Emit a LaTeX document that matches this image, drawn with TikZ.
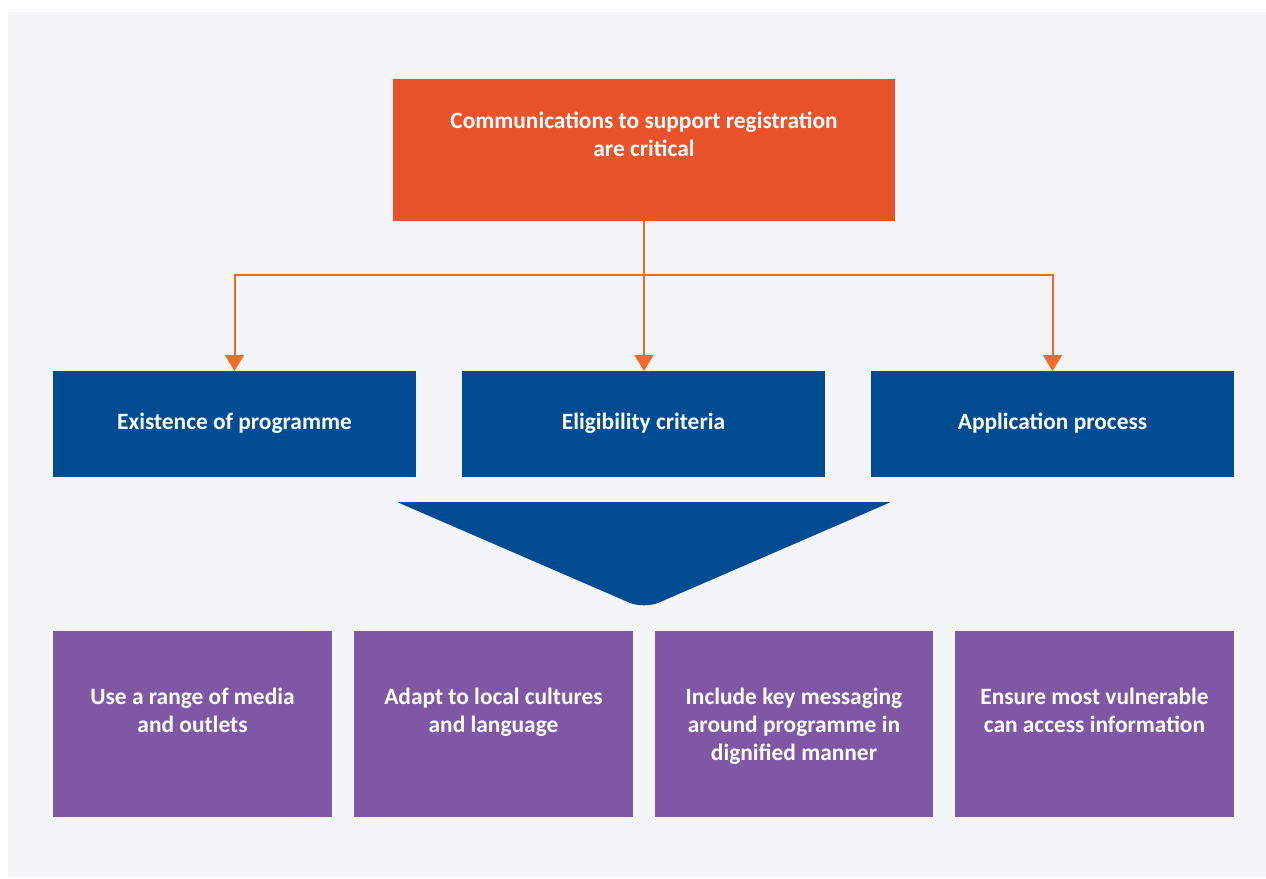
\documentclass[tikz,border=0pt]{standalone}
\usepackage{fontspec}
\setmainfont{Carlito}
\usetikzlibrary{arrows.meta}
\definecolor{panel}{HTML}{F4F5F7}
\definecolor{topor}{HTML}{E8532B}
\definecolor{lineor}{HTML}{F26B25}
\definecolor{dblue}{HTML}{004C93}
\definecolor{purp}{HTML}{7F58A5}
\tikzset{
  box/.style={rectangle, inner sep=0pt, outer sep=0pt},
  txt/.style={inner sep=0pt, outer sep=0pt, align=center, text=white, font=\fontsize{23.4}{28}\selectfont\bfseries},
  conn/.style={draw=lineor, line width=2pt, -{Triangle[width=19pt,length=16pt]}},
}
\begin{document}
\begin{tikzpicture}[x=1pt,y=-1pt]
\useasboundingbox (0,0) rectangle (1266,878);
\fill[panel] (8,12) rectangle (1266,878);
% top box
\node[box, fill=topor, minimum width=502pt, minimum height=142pt] (top) at (644,150) {};
\node[txt, anchor=north] (ttop) at ([yshift=-29.4pt]top.north) {\strut Communications to support registration\\are critical};
% blue boxes
\node[box, fill=dblue, minimum width=363pt, minimum height=106pt] (b1) at (234.5,424) {};
\node[box, fill=dblue, minimum width=363pt, minimum height=106pt] (b2) at (643.5,424) {};
\node[box, fill=dblue, minimum width=363pt, minimum height=106pt] (b3) at (1052.5,424) {};
\node[txt, anchor=base] (tb1) at (234.5,429) {Existence of programme};
\node[txt, anchor=base] (tb2) at (643.5,429) {Eligibility criteria};
\node[txt, anchor=base] (tb3) at (1052.5,429) {Application process};
% connectors
\coordinate (bus) at (644,275);
\draw[conn] (top.south) -- (top.south |- b2.north);
\draw[conn] (bus) -| (b1.north);
\draw[conn] (bus) -| (b3.north);
% funnel
\fill[dblue] (397,502) [rounded corners=2pt] -- (891,502) [rounded corners=16pt] -- (644,609) [rounded corners=2pt] -- cycle;
% purple boxes
\node[box, fill=purp, minimum width=279pt, minimum height=186pt] (p1) at (192.5,724) {};
\node[box, fill=purp, minimum width=279pt, minimum height=186pt] (p2) at (493.5,724) {};
\node[box, fill=purp, minimum width=278pt, minimum height=186pt] (p3) at (794,724) {};
\node[box, fill=purp, minimum width=279pt, minimum height=186pt] (p4) at (1094.5,724) {};
\node[txt, anchor=north] (tp1) at ([yshift=-53.4pt]p1.north) {\strut Use a range of media\\and outlets};
\node[txt, anchor=north] (tp2) at ([yshift=-53.4pt]p2.north) {\strut Adapt to local cultures\\and language};
\node[txt, anchor=north] (tp3) at ([yshift=-53.4pt]p3.north) {\strut Include key messaging\\around programme in\\dignified manner};
\node[txt, anchor=north] (tp4) at ([yshift=-53.4pt]p4.north) {\strut Ensure most vulnerable\\can access information};
\end{tikzpicture}
\end{document}
